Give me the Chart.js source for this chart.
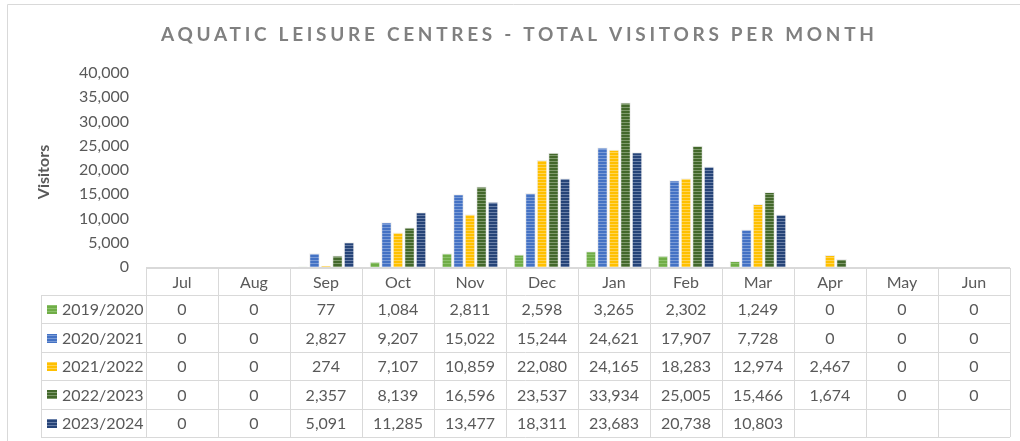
<!DOCTYPE html>
<html>
<head>
<meta charset="utf-8">
<script src="https://cdn.jsdelivr.net/npm/chart.js@4/dist/chart.umd.min.js"></script>
<style>
  html, body { margin: 0; padding: 0; background: #fff; }
  #wrap { width: 1020px; height: 441px; position: relative; }
</style>
</head>
<body>
<div id="wrap"><canvas id="c" width="1020" height="441"></canvas></div>
<script>
const chartTitle = 'AQUATIC LEISURE CENTRES - TOTAL VISITORS PER MONTH';
const yAxisTitle = 'Visitors';
const months = ['Jul', 'Aug', 'Sep', 'Oct', 'Nov', 'Dec', 'Jan', 'Feb', 'Mar', 'Apr', 'May', 'Jun'];
const seriesNames = ['2019/2020', '2020/2021', '2021/2022', '2022/2023', '2023/2024'];
const v2019_2020 = [0, 0, 77, 1084, 2811, 2598, 3265, 2302, 1249, 0, 0, 0];
const v2020_2021 = [0, 0, 2827, 9207, 15022, 15244, 24621, 17907, 7728, 0, 0, 0];
const v2021_2022 = [0, 0, 274, 7107, 10859, 22080, 24165, 18283, 12974, 2467, 0, 0];
const v2022_2023 = [0, 0, 2357, 8139, 16596, 23537, 33934, 25005, 15466, 1674, 0, 0];
const v2023_2024 = [0, 0, 5091, 11285, 13477, 18311, 23683, 20738, 10803, null, null, null];
const yMin = 0, yMax = 40000, yStep = 5000;

const seriesValues = [v2019_2020, v2020_2021, v2021_2022, v2022_2023, v2023_2024];
const baseColors = ['#70ad47', '#4472c4', '#ffc000', '#43682b', '#264478'];
const stripeColors = ['#8cc26b', '#7a9bd6', '#ffd454', '#7f9a6c', '#6a80a8'];

function makePattern(base, stripe) {
  const p = document.createElement('canvas');
  p.width = 4; p.height = 3;
  const g = p.getContext('2d');
  g.fillStyle = base; g.fillRect(0, 0, 4, 3);
  g.fillStyle = stripe; g.fillRect(0, 2, 4, 1);
  return document.getElementById('c').getContext('2d').createPattern(p, 'repeat');
}
const patterns = baseColors.map((b, i) => makePattern(b, stripeColors[i]));

const FONT = 'Lato, "Open Sans", sans-serif';
const TEXT = '#595959';
const GRID = '#d9d9d9';

const tablePlugin = {
  id: 'tablePlugin',
  afterDraw(chart) {
    const ctx = chart.ctx;
    const x = chart.scales.x;
    const area = chart.chartArea;
    ctx.save();
    // outer frame
    ctx.strokeStyle = GRID; ctx.lineWidth = 1;
    ctx.beginPath();
    ctx.moveTo(7.5, 441); ctx.lineTo(7.5, 4.5); ctx.lineTo(1020, 4.5);
    ctx.stroke();

    // title
    ctx.fillStyle = '#808080';
    ctx.font = 'bold 19px ' + FONT;
    ctx.textBaseline = 'middle';
    ctx.textAlign = 'left';
    const targetW = 713;
    ctx.letterSpacing = '0px';
    const w0 = ctx.measureText(chartTitle).width;
    const ls = (targetW - w0) / (chartTitle.length - 1);
    ctx.letterSpacing = ls.toFixed(2) + 'px';
    ctx.fillText(chartTitle, 161, 35);
    ctx.letterSpacing = '0px';

    // y axis title
    ctx.save();
    ctx.translate(44, 172);
    ctx.rotate(-Math.PI / 2);
    ctx.textAlign = 'center';
    ctx.fillStyle = '#595959';
    ctx.font = 'bold 16px ' + FONT;
    ctx.fillText(yAxisTitle, 0, 0);
    ctx.restore();

    // table
    const colW = x.getPixelForValue(1) - x.getPixelForValue(0);
    const left = area.left, right = area.right;
    const headTop = area.bottom + 1, headBot = 295;
    const rowH = (437 - headBot) / seriesNames.length;
    const labLeft = 41;
    const bottom = headBot + rowH * seriesNames.length;

    ctx.strokeStyle = GRID; ctx.lineWidth = 1;
    ctx.beginPath();
    // horizontal lines
    ctx.moveTo(left, headTop + 0.5); ctx.lineTo(right, headTop + 0.5);
    for (let r = 0; r <= seriesNames.length; r++) {
      const y = Math.round(headBot + r * rowH) + 0.5;
      ctx.moveTo(labLeft, y); ctx.lineTo(right, y);
    }
    // vertical lines
    for (let i = 0; i <= months.length; i++) {
      const xx = Math.round(x.getPixelForValue(i) - colW / 2) + 0.5;
      ctx.moveTo(xx, headTop); ctx.lineTo(xx, bottom);
    }
    ctx.moveTo(labLeft + 0.5, headBot); ctx.lineTo(labLeft + 0.5, bottom);
    ctx.stroke();
    ctx.lineWidth = 2;
    ctx.beginPath();
    ctx.moveTo(left, area.bottom + 1); ctx.lineTo(right, area.bottom + 1);
    ctx.stroke();

    ctx.font = '16px ' + FONT;
    ctx.fillStyle = TEXT;
    ctx.textAlign = 'center';
    months.forEach((m, i) => {
      ctx.fillText(m, x.getPixelForValue(i), (headTop + headBot) / 2 + 1);
    });
    seriesNames.forEach((name, r) => {
      const cy = headBot + r * rowH + rowH / 2 + 1;
      ctx.fillStyle = patterns[r];
      ctx.fillRect(47, Math.round(cy - 5), 10, 9);
      ctx.fillStyle = TEXT;
      ctx.textAlign = 'left';
      ctx.fillText(name, 62, cy);
      ctx.textAlign = 'center';
      seriesValues[r].forEach((v, i) => {
        if (v === null || v === undefined) return;
        ctx.fillText(v.toLocaleString('en-US'), x.getPixelForValue(i), cy);
      });
    });
    ctx.restore();
  }
};

new Chart(document.getElementById('c'), {
  type: 'bar',
  data: {
    labels: months,
    datasets: seriesNames.map((n, i) => ({
      label: n,
      data: seriesValues[i],
      backgroundColor: patterns[i],
      borderColor: 'rgba(235,235,235,0.9)',
      borderWidth: 1,
      borderSkipped: 'bottom',
      categoryPercentage: 0.8,
      barPercentage: 0.92
    }))
  },
  options: {
    responsive: false,
    animation: false,
    events: [],
    layout: { padding: { left: 0, top: 73, right: 10, bottom: 174 } },
    plugins: { legend: { display: false }, title: { display: false }, tooltip: { enabled: false } },
    scales: {
      x: {
        grid: { display: false, drawTicks: false },
        border: { display: false },
        ticks: { display: false },
        afterFit(s) { s.height = 0; }
      },
      y: {
        min: yMin, max: yMax,
        grid: { display: false, drawTicks: false },
        border: { display: false },
        ticks: {
          stepSize: yStep,
          padding: 17,
          color: TEXT,
          font: { family: FONT, size: 16 },
          callback: v => v.toLocaleString('en-US')
        },
        afterFit(s) { s.width = 146; }
      }
    }
  },
  plugins: [tablePlugin]
});
</script>
</body>
</html>
